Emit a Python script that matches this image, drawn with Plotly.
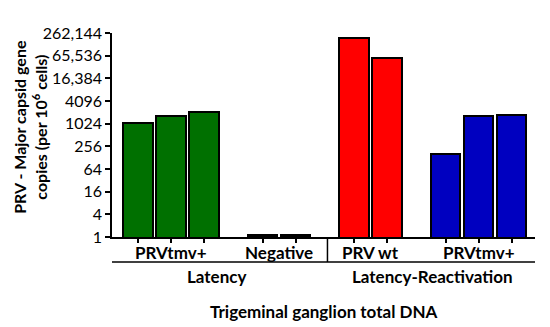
import plotly.graph_objects as go
import math

# ---- data ----
groups = ["PRVtmv+", "Negative", "PRV wt", "PRVtmv+"]
supergroups = ["Latency", "Latency-Reactivation"]
supergroup_of = [0, 0, 1, 1]
latency_prvtmv = [1100, 1640, 2130]
latency_negative = [1.12, 1.12]
react_prvwt = [190000, 56000]
react_prvtmv = [160, 1600, 1770]
group_values = [latency_prvtmv, latency_negative, react_prvwt, react_prvtmv]
group_colors = ["#007000", "#000000", "#FF0000", "#0000C0"]
ytick_vals = [1, 4, 16, 64, 256, 1024, 4096, 16384, 65536, 262144]
ytick_text = ["1", "4", "16", "64", "256", "1024", "4096", "16,384", "65,536", "262,144"]

GAP = 0.77
FONT = "Lato"

# positions
positions = []
pos = 0.0
for vals in group_values:
    p = []
    for _ in vals:
        p.append(pos)
        pos += 1
    positions.append(p)
    pos += GAP

fig = go.Figure()
for vals, p, c in zip(group_values, positions, group_colors):
    fig.add_trace(go.Bar(x=p, y=vals, width=0.9, marker=dict(color=c, line=dict(color="black", width=2)),
                         showlegend=False))

all_pos = [x for p in positions for x in p]
xmin = all_pos[0] - 0.79
xmax = all_pos[-1] + 0.71

PH = 204  # plot height px
fig.update_layout(
    width=542, height=319,
    margin=dict(l=104, r=15, t=25, b=90),
    plot_bgcolor="white", paper_bgcolor="white",
    font=dict(family=FONT, color="black"),
    bargap=0,
)
fig.update_xaxes(range=[xmin, xmax], tickvals=all_pos, showticklabels=False,
                 ticks="outside", ticklen=4, tickwidth=1.5, tickcolor="black",
                 showline=True, linecolor="black", linewidth=1.5, showgrid=False, zeroline=False)
fig.update_yaxes(type="log", range=[0, math.log10(262144)], tickvals=ytick_vals, ticktext=ytick_text,
                 ticks="outside", ticklen=5, tickwidth=1.5, tickcolor="black",
                 tickfont=dict(size=16, family=FONT),
                 showline=True, linecolor="black", linewidth=1.5, showgrid=False, zeroline=False)

# category labels
for g, p in zip(groups, positions):
    fig.add_annotation(x=sum(p) / len(p), y=0, xref="x", yref="paper", yshift=-15,
                       xanchor="center", yanchor="middle",
                       text="<b>%s</b>" % g, showarrow=False, font=dict(size=17, family=FONT))

# horizontal line under category labels
ly = -(262 - 237) / PH
fig.add_shape(type="line", xref="paper", yref="paper", x0=0, x1=1.0, y0=ly, y1=ly,
              line=dict(color="black", width=1.5))
# separator between supergroups
sep = (positions[1][-1] + positions[2][0]) / 2 + 0.08
fig.add_shape(type="line", xref="x", yref="paper", x0=sep, x1=sep, y0=0, y1=ly,
              line=dict(color="black", width=1.5))

# supergroup labels
for si, sg in enumerate(supergroups):
    ps = [x for gi, p in enumerate(positions) if supergroup_of[gi] == si for x in p]
    fig.add_annotation(x=(ps[0] + ps[-1]) / 2, y=0, xref="x", yref="paper", yshift=-39,
                       xanchor="center", yanchor="middle",
                       text="<b>%s</b>" % sg, showarrow=False, font=dict(size=17, family=FONT))

# x title
fig.add_annotation(x=0.5, y=0, xref="paper", yref="paper", yshift=-74,
                   xanchor="center", yanchor="middle",
                   text="<b>Trigeminal ganglion total DNA</b>", showarrow=False,
                   font=dict(size=17, family=FONT))

# y title
fig.add_annotation(x=0, y=0.54, xref="paper", yref="paper", xshift=-82, textangle=-90,
                   xanchor="center", yanchor="middle",
                   text="<b>PRV - Major capsid gene<br>copies (per 10<sup>6</sup> cells)</b>",
                   showarrow=False, font=dict(size=16, family=FONT))

fig.write_html("out.html")
